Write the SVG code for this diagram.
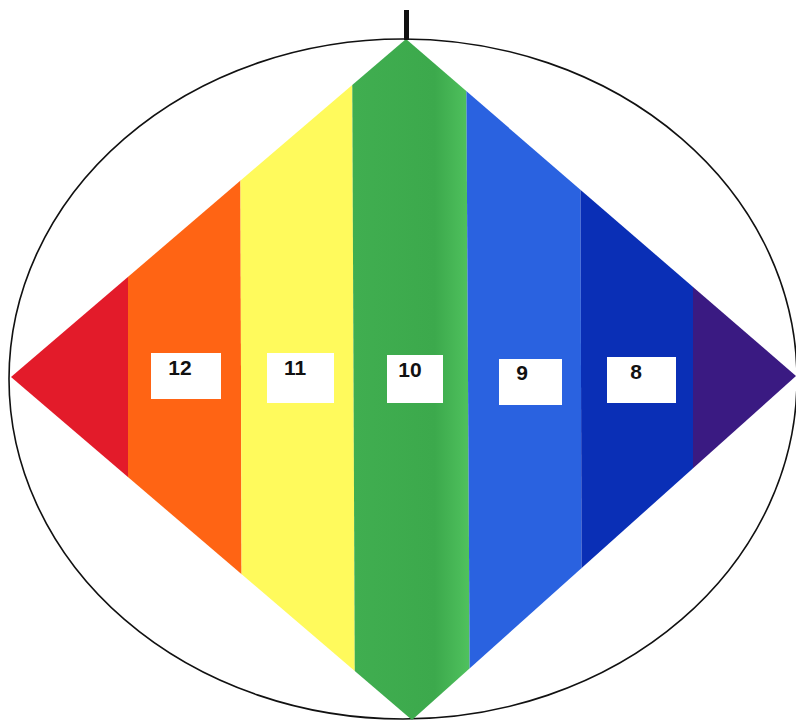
<svg xmlns="http://www.w3.org/2000/svg" width="796" height="722" viewBox="0 0 796 722">
  <style>
    .box { fill: #ffffff; }
    .lbl { font-family: "Liberation Sans", Arial, sans-serif; font-weight: bold; font-size: 21px; fill: #111111; text-anchor: middle; }
    .outline { fill: none; stroke: #111111; stroke-width: 1.6; }
  </style>
  <defs>
    <clipPath id="diamond">
      <polygon points="406,39 796,376 412,720 11,377"/>
    </clipPath>
    <linearGradient id="greenGrad" x1="0" y1="0" x2="1" y2="0">
      <stop offset="0" stop-color="#40ae50"/>
      <stop offset="0.7" stop-color="#3ca94c"/>
      <stop offset="1" stop-color="#50c25e"/>
    </linearGradient>
  </defs>
  <rect width="796" height="722" fill="#ffffff"/>
  <ellipse class="outline" cx="403" cy="379" rx="394" ry="340"/>
  <g clip-path="url(#diamond)">
    <g id="band-red"><polygon points="0,20 128,20 128,730 0,730" fill="#e31b2a"/></g>
    <g id="band-orange"><polygon points="128,20 240,20 242,730 128,730" fill="#ff6414"/></g>
    <g id="band-yellow"><polygon points="240,20 352,20 355,730 242,730" fill="#fffa5c"/></g>
    <g id="band-green"><polygon points="352,20 466,20 470,730 355,730" fill="url(#greenGrad)"/></g>
    <g id="band-blue"><polygon points="466,20 580,20 582,730 470,730" fill="#2a62e0"/></g>
    <g id="band-darkblue"><polygon points="580,20 693,20 693,730 582,730" fill="#0a2fb6"/></g>
    <g id="band-purple"><polygon points="693,20 800,20 800,730 693,730" fill="#3a1a82"/></g>
  </g>
  <rect x="404" y="10" width="5" height="30" fill="#111111"/>
  <g id="label-12"><rect class="box" x="151" y="353" width="70" height="46"/><text class="lbl" x="180" y="375">12</text></g>
  <g id="label-11"><rect class="box" x="267" y="353" width="67" height="50"/><text class="lbl" x="295" y="375">11</text></g>
  <g id="label-10"><rect class="box" x="387" y="355" width="56" height="48"/><text class="lbl" x="410" y="377">10</text></g>
  <g id="label-9"><rect class="box" x="499" y="359" width="63" height="46"/><text class="lbl" x="522" y="380">9</text></g>
  <g id="label-8"><rect class="box" x="607" y="357" width="69" height="46"/><text class="lbl" x="636" y="379">8</text></g>
</svg>
